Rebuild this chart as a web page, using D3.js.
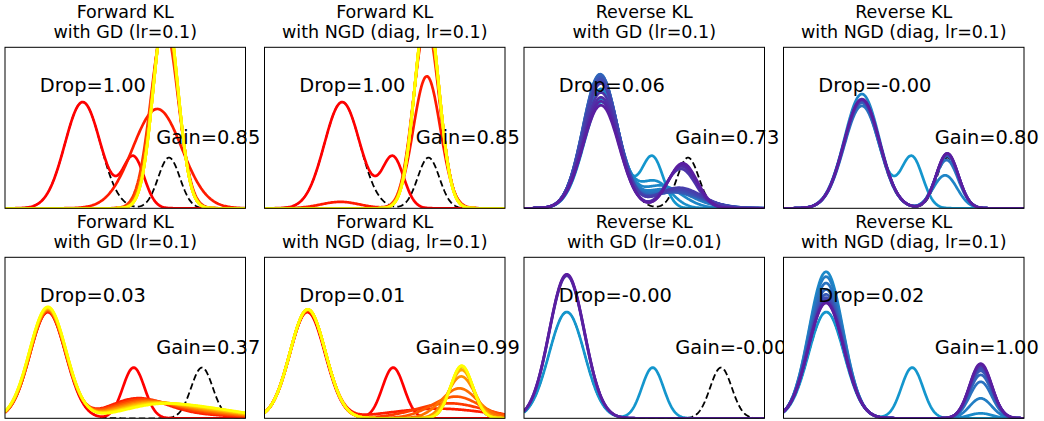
<!DOCTYPE html>
<html>
<head>
<meta charset="utf-8">
<script src="https://cdn.jsdelivr.net/npm/d3@7"></script>
<style>
  body { margin: 0; background: #fff; }
  text { font-family: "DejaVu Sans", sans-serif; fill: #000; }
</style>
</head>
<body>
<div id="chart"></div>
<script>
// panel texts
const TITLES = [
  ['Forward KL', 'with GD (lr=0.1)'],
  ['Forward KL', 'with NGD (diag, lr=0.1)'],
  ['Reverse KL', 'with GD (lr=0.1)'],
  ['Reverse KL', 'with NGD (diag, lr=0.1)'],
  ['Forward KL', 'with GD (lr=0.1)'],
  ['Forward KL', 'with NGD (diag, lr=0.1)'],
  ['Reverse KL', 'with GD (lr=0.01)'],
  ['Reverse KL', 'with NGD (diag, lr=0.1)']
];
const DROP_LABELS = ['Drop=1.00', 'Drop=1.00', 'Drop=0.06', 'Drop=-0.00',
                     'Drop=0.03', 'Drop=0.01', 'Drop=-0.00', 'Drop=0.02'];
const GAIN_LABELS = ['Gain=0.85', 'Gain=0.85', 'Gain=0.73', 'Gain=0.80',
                     'Gain=0.37', 'Gain=0.99', 'Gain=-0.00', 'Gain=1.00'];
const KINDS = ['forward', 'forward', 'reverse', 'reverse',
               'forward', 'forward', 'reverse', 'reverse'];

// mixture components as [mean, width, peak height], x in 0..100
const START_TOP = [[32.3, 7.4, 0.66], [53.4, 4.5, 0.315]];
const TARGET_TOP = [[32.3, 7.4, 0.66], [68.2, 4.5, 0.315]];
const START_BOTTOM = [[17.8, 7.4, 0.66], [53.5, 4.5, 0.315]];
const TARGET_BOTTOM = [[17.8, 7.4, 0.66], [81.9, 4.5, 0.315]];

// iterates: [step, components]
const FWD_GD_TOP = [
  [0, START_TOP],
  [1, [[63.3, 10.2, 0.617]]],
  [2, [[66.3, 5.6, 1.14]]],
  [3, [[66.5, 5.35, 1.19]]],
  [4, [[66.6, 5.25, 1.21]]],
  [5, [[66.7, 5.15, 1.22]]],
  [6, [[66.75, 5.1, 1.23]]],
  [7, [[66.8, 5.08, 1.24]]],
  [8, [[66.8, 5.06, 1.245]]],
  [9, [[66.8, 5.05, 1.25]]],
  [10, [[66.8, 5.05, 1.25]]]
];
const FWD_NGD_TOP = [
  [0, START_TOP],
  [1, [[31.5, 8, 0.04], [67.5, 5.6, 0.82]]],
  [2, [[67.3, 5.3, 1.14]]],
  [3, [[67.4, 5.2, 1.18]]],
  [4, [[67.45, 5.12, 1.21]]],
  [5, [[67.5, 5.08, 1.23]]],
  [6, [[67.5, 5.05, 1.24]]],
  [7, [[67.5, 5.03, 1.25]]],
  [8, [[67.5, 5.02, 1.25]]],
  [9, [[67.5, 5.0, 1.25]]],
  [10, [[67.5, 5.0, 1.25]]]
];
const REV_GD_TOP = [
  [0, START_TOP],
  [1, [[32.2, 7.4, 0.68], [54.5, 6.5, 0.165]]],
  [2, [[32.0, 7.3, 0.74], [57, 8.5, 0.14]]],
  [3, [[31.8, 7.2, 0.79], [59, 10.5, 0.12]]],
  [4, [[31.7, 7.1, 0.815], [60, 11.5, 0.11]]],
  [5, [[31.6, 7.1, 0.828], [61, 12, 0.102]]],
  [6, [[31.6, 7.1, 0.828], [62, 12, 0.10]]],
  [7, [[31.7, 7.15, 0.82], [62.5, 11.5, 0.10]]],
  [8, [[31.7, 7.2, 0.81], [63, 11, 0.104]]],
  [9, [[31.8, 7.2, 0.80], [63.5, 10.5, 0.11]]],
  [10, [[31.8, 7.25, 0.79], [64, 10, 0.118]]],
  [11, [[31.9, 7.3, 0.775], [64.5, 9.5, 0.128]]],
  [12, [[32.0, 7.35, 0.72], [65.2, 6.2, 0.245]]],
  [13, [[32.0, 7.4, 0.69], [65.5, 6.1, 0.26]]],
  [14, [[32.0, 7.4, 0.665], [65.8, 6, 0.27]]],
  [15, [[32.0, 7.5, 0.64], [66, 6, 0.28]]]
];
const REV_NGD_TOP = [
  [0, START_TOP],
  [1, [[32.6, 7.3, 0.71], [67.2, 5, 0.205]]],
  [2, [[32.6, 7.4, 0.636], [67.8, 4.8, 0.30]]],
  [3, [[32.6, 7.4, 0.655], [68.0, 4.7, 0.325]]],
  [4, [[32.6, 7.4, 0.665], [68.1, 4.65, 0.332]]],
  [5, [[32.6, 7.4, 0.672], [68.1, 4.6, 0.337]]],
  [6, [[32.6, 7.4, 0.676], [68.1, 4.6, 0.34]]],
  [7, [[32.6, 7.4, 0.678], [68.1, 4.6, 0.342]]]
];
const FWD_GD_BOTTOM = [
  [0, START_BOTTOM],
  [1, [[17.8, 7.4, 0.662], [55, 12, 0.12], [80, 15, 0.02]]],
  [2, [[17.8, 7.4, 0.666], [56, 12.5, 0.11], [81, 15, 0.027]]],
  [3, [[17.8, 7.45, 0.671], [57, 13, 0.10], [82, 15.5, 0.032]]],
  [4, [[17.8, 7.5, 0.676], [58, 13, 0.093], [83, 15.5, 0.037]]],
  [5, [[17.8, 7.5, 0.68], [59, 13.5, 0.086], [84, 16, 0.041]]],
  [6, [[17.8, 7.55, 0.684], [60, 13.5, 0.08], [84, 16, 0.045]]],
  [7, [[17.8, 7.6, 0.688], [61, 14, 0.075], [85, 16, 0.048]]],
  [8, [[17.8, 7.6, 0.692], [62, 14, 0.07], [85, 16, 0.05]]]
];
const FWD_NGD_BOTTOM = [
  [0, START_BOTTOM],
  [1, [[18, 7.4, 0.665], [72, 20, 0.06]]],
  [2, [[18, 7.4, 0.668], [77, 14, 0.093]]],
  [3, [[18, 7.4, 0.671], [79.5, 10, 0.135]]],
  [4, [[18, 7.4, 0.673], [81, 7.5, 0.186]]],
  [5, [[18, 7.4, 0.675], [81.8, 5.6, 0.26]]],
  [6, [[18, 7.4, 0.676], [82, 5, 0.30]]],
  [7, [[18, 7.4, 0.677], [82, 4.7, 0.318]]],
  [8, [[18, 7.4, 0.677], [82, 4.6, 0.325]]],
  [9, [[18, 7.4, 0.677], [82, 4.6, 0.327]]]
];
const REV_GD_BOTTOM = [
  [0, START_BOTTOM],
  [8, [[17.8, 7.25, 0.885]]],
  [9, [[17.8, 7.3, 0.89]]],
  [10, [[17.8, 7.3, 0.895]]]
];
const REV_NGD_BOTTOM = [
  [0, START_BOTTOM],
  [1, [[17.7, 7.1, 0.91], [82, 4.6, 0.031]]],
  [2, [[17.7, 7.15, 0.88], [82, 4.6, 0.124]]],
  [3, [[17.7, 7.2, 0.84], [82, 4.6, 0.227]]],
  [4, [[17.7, 7.25, 0.80], [82, 4.6, 0.27]]],
  [5, [[17.7, 7.3, 0.77], [82, 4.6, 0.295]]],
  [6, [[17.7, 7.3, 0.75], [82, 4.6, 0.31]]],
  [7, [[17.7, 7.35, 0.735], [82, 4.6, 0.32]]],
  [8, [[17.7, 7.35, 0.725], [82, 4.6, 0.33]]],
  [9, [[17.7, 7.4, 0.72], [82, 4.6, 0.335]]],
  [10, [[17.7, 7.4, 0.716], [82, 4.6, 0.34]]]
];

const ITERATES = [FWD_GD_TOP, FWD_NGD_TOP, REV_GD_TOP, REV_NGD_TOP,
                  FWD_GD_BOTTOM, FWD_NGD_BOTTOM, REV_GD_BOTTOM, REV_NGD_BOTTOM];
const TARGETS = [TARGET_TOP, TARGET_TOP, TARGET_TOP, TARGET_TOP,
                 TARGET_BOTTOM, TARGET_BOTTOM, TARGET_BOTTOM, TARGET_BOTTOM];

const WIDTH = 1044;
const HEIGHT = 421;
const PW = 240.5;
const PH = 161;
const COL_X = [5, 264.5, 524, 783.5];
const ROW_Y = [47.3, 257.3];

const COLORS = {
  forward: d3.interpolateRgb('#ff0000', '#ffff00'),
  reverse: d3.interpolateRgb('#1496cd', '#5a1ea0')
};

const x = d3.scaleLinear().domain([0, 100]).range([0, PW]);
const y = d3.scaleLinear().domain([0, 1]).range([PH, 0]);
const XS = d3.range(0, 100.001, 0.4);

const density = (comps, v) =>
  d3.sum(comps, c => c[2] * Math.exp(-((v - c[0]) ** 2) / (2 * c[1] * c[1])));

const line = d3.line()
  .x(d => x(d[0]))
  .y(d => y(d[1]));

const curve = comps => line(XS.map(v => [v, density(comps, v)]));

const svg = d3.select('#chart')
  .append('svg')
    .attr('width', WIDTH)
    .attr('height', HEIGHT);

ITERATES.forEach((iters, i) => {
  const g = svg.append('g')
    .attr('transform', `translate(${COL_X[i % 4]}, ${ROW_Y[Math.floor(i / 4)]})`);

  g.append('clipPath')
    .attr('id', `clip-${i}`)
    .append('rect')
      .attr('width', PW)
      .attr('height', PH);

  g.append('rect')
    .attr('width', PW)
    .attr('height', PH)
    .attr('fill', '#fff');

  const plot = g.append('g')
    .attr('clip-path', `url(#clip-${i})`);

  // target density underneath the iterates
  plot.append('path')
    .attr('d', curve(TARGETS[i]))
    .attr('fill', 'none')
    .attr('stroke', '#000')
    .attr('stroke-width', 1.8)
    .attr('stroke-dasharray', '6.5,3.2');

  const maxStep = d3.max(iters, d => d[0]);
  const color = COLORS[KINDS[i]];

  plot.selectAll('path.iter')
    .data(iters)
    .enter().append('path')
      .attr('class', 'iter')
      .attr('d', d => curve(d[1]))
      .attr('fill', 'none')
      .attr('stroke', d => color(d[0] / maxStep))
      .attr('stroke-width', 2.7)
      .attr('stroke-linejoin', 'round');

  g.append('rect')
    .attr('width', PW)
    .attr('height', PH)
    .attr('fill', 'none')
    .attr('stroke', '#000')
    .attr('stroke-width', 1);

  const title = g.append('text')
    .attr('text-anchor', 'middle')
    .attr('font-size', '17.5px');
  TITLES[i].forEach((t, k) => {
    title.append('tspan')
      .attr('x', PW / 2)
      .attr('y', -29 + k * 19.4)
      .text(t);
  });

  g.append('text')
    .attr('x', x(14.5))
    .attr('y', y(0.724))
    .attr('font-size', '19.4px')
    .text(DROP_LABELS[i]);

  g.append('text')
    .attr('x', x(62.9))
    .attr('y', y(0.40))
    .attr('font-size', '19.4px')
    .text(GAIN_LABELS[i]);
});
</script>
</body>
</html>
